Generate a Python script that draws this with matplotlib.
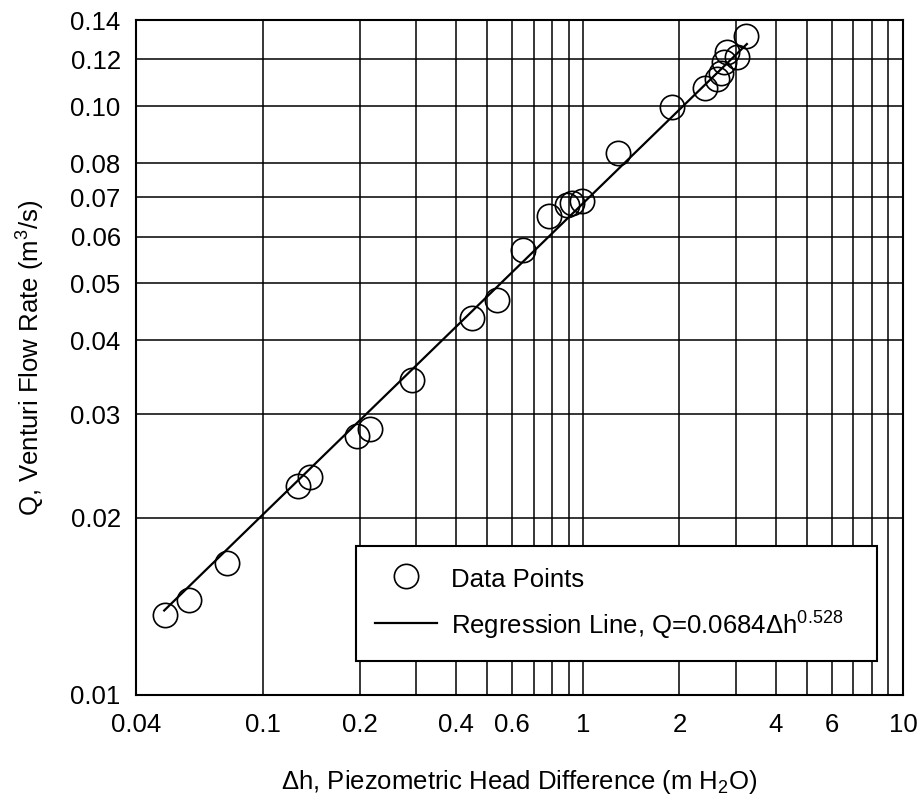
import numpy as np
import matplotlib
matplotlib.use("Agg")
import matplotlib.pyplot as plt

# ---- data ----
dh = [0.0493, 0.0586, 0.0772, 0.1287, 0.140, 0.1967, 0.2156, 0.292,
      0.449, 0.538, 0.647, 0.784, 0.888, 0.920, 0.989, 1.285, 1.90,
      2.40, 2.63, 2.70, 2.76, 2.82, 3.02, 3.24]
q = [0.01368, 0.01450, 0.01673, 0.02264, 0.02348, 0.02755, 0.02829, 0.03426,
     0.04365, 0.04685, 0.05694, 0.06505, 0.0679, 0.0684, 0.0690, 0.0831, 0.0997,
     0.1072, 0.1110, 0.1140, 0.1189, 0.1237, 0.1213, 0.1315]
coef = 0.0684
expo = 0.528
fit_range = [0.049, 3.25]

x_major = [0.04, 0.1, 0.2, 0.4, 0.6, 1, 2, 4, 6, 10]
x_major_labels = ["0.04", "0.1", "0.2", "0.4", "0.6", "1", "2", "4", "6", "10"]
x_minor = [0.3, 0.5, 0.7, 0.8, 0.9, 3, 5, 7, 8, 9]
y_major = [0.01, 0.02, 0.03, 0.04, 0.05, 0.06, 0.07, 0.08, 0.10, 0.12, 0.14]
y_major_labels = ["0.01", "0.02", "0.03", "0.04", "0.05", "0.06", "0.07",
                  "0.08", "0.10", "0.12", "0.14"]

plt.rcParams['font.family'] = ['Liberation Sans', 'DejaVu Sans']
plt.rcParams['mathtext.fontset'] = 'custom'
plt.rcParams['mathtext.rm'] = 'Liberation Sans'
plt.rcParams['mathtext.it'] = 'Liberation Sans'
plt.rcParams['mathtext.default'] = 'regular'

FS = 18.5

fig = plt.figure(figsize=(9.2, 7.98), dpi=100)
ax = fig.add_axes([136/920, 1-695/798, (903-136)/920, (695-20)/798])
ax.set_xscale('log')
ax.set_yscale('log')
ax.set_xlim(0.04, 10)
ax.set_ylim(0.01, 0.14)

ax.set_xticks(x_major)
ax.set_xticklabels(x_major_labels)
ax.set_xticks(x_minor, minor=True)
ax.set_xticklabels([], minor=True)
ax.set_yticks(y_major)
ax.set_yticklabels(y_major_labels)
ax.set_yticks([], minor=True)
ax.tick_params(which='both', length=0, labelsize=FS)
ax.tick_params(axis='x', pad=13)
ax.tick_params(axis='y', pad=11)
ax.grid(True, which='both', color='black', linewidth=1.1)
ax.set_axisbelow(True)
for s in ax.spines.values():
    s.set_linewidth(1.5)
    s.set_color('black')

xf = np.logspace(np.log10(fit_range[0]), np.log10(fit_range[1]), 100)
ax.plot(dh, q, 'o', mfc='none', mec='black', ms=17.5, mew=1.2, label='Data Points', zorder=3)
ax.plot(xf, coef*xf**expo, color='black', lw=1.6,
        label='Regression Line, Q=0.0684Δh$^{0.528}$', zorder=3)

leg = ax.legend(loc='lower left', bbox_to_anchor=(0.2868, 0.0504, 0.966-0.2868, 0.2237-0.0504),
                mode='expand', fontsize=FS, frameon=True, fancybox=False, framealpha=1,
                edgecolor='black', handlelength=2.4, handletextpad=0.55, labelspacing=0.65,
                handleheight=1.3, borderpad=0.75, borderaxespad=0)
leg.get_frame().set_linewidth(1.5)

ax.set_xlabel('Δh, Piezometric Head Difference (m H$_2$O)', fontsize=FS, labelpad=22)
ax.set_ylabel('Q, Venturi Flow Rate (m$^3$/s)', fontsize=FS, labelpad=17)

fig.savefig('out.png', dpi=100, facecolor='white')
